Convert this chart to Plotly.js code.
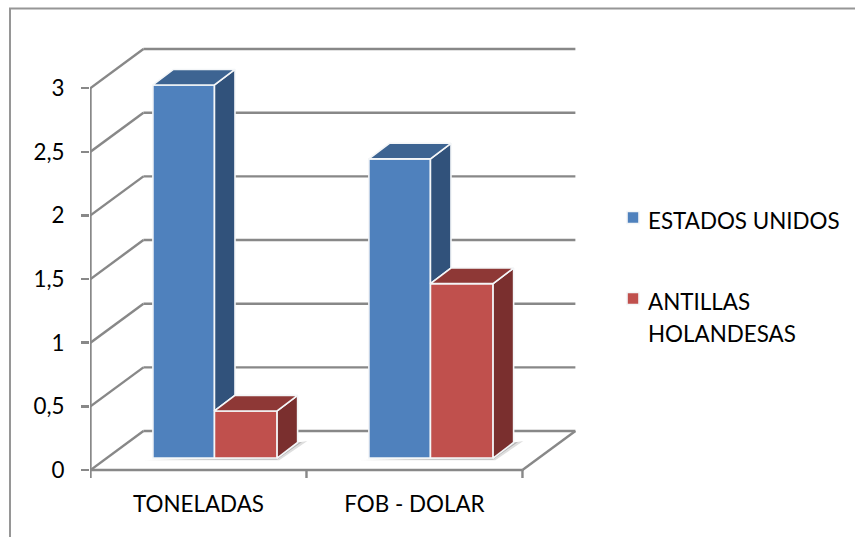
<!DOCTYPE html>
<html><head><meta charset="utf-8">
<script src="https://cdn.plot.ly/plotly-3.0.1.min.js"></script>
<style>html,body{margin:0;padding:0;background:#fff;overflow:hidden}</style>
</head><body><div id="chart" style="width:855px;height:537px"></div>
<script>
const categories = ['TONELADAS', 'FOB - DOLAR'];
const categoryPos = [0.5, 1.5];
const estadosUnidos = [2.93, 2.35];
const antillas = [0.37, 1.37];
const tickValues = [0, 0.5, 1, 1.5, 2, 2.5, 3];
const tickLabels = ['0', '0,5', '1', '1,5', '2', '2,5', '3'];
const nameA = 'ESTADOS UNIDOS';
const nameB = 'ANTILLAS<br>HOLANDESAS';

// projection of the pseudo-3D box, in axis units
const wallDX = 0.245, wallDY = 0.306;   // depth of the floor
const barDX = 0.095, barDY = 0.122;     // depth of a bar
const barBase = 0.094;                  // bars stand inside the floor
const blueOff = -0.211, blueW = 0.285, redOff = 0.074, redW = 0.29;
const xMaxCat = 2;
const grid = '#888888';

const poly = (pts, color) => ({
  type: 'scatter', mode: 'lines', x: pts.map(p => p[0]), y: pts.map(p => p[1]),
  fill: 'toself', fillcolor: color, line: {color: '#f4f6f8', width: 1.6},
  showlegend: false, hoverinfo: 'skip'
});
const seg = (x0, y0, x1, y1, w) => ({type: 'line', layer: 'below', xref: 'x', yref: 'y',
  x0, y0, x1, y1, line: {color: grid, width: w || 2.4}});
const pathShape = (pts, alpha) => ({type: 'path', layer: 'below', xref: 'x', yref: 'y',
  path: 'M' + pts.map(p => p[0] + ',' + p[1]).join('L') + 'Z',
  fillcolor: 'rgba(90,90,90,' + alpha + ')', line: {width: 0}});

const shapes = [];
// back-wall gridlines and left-wall diagonals
tickValues.forEach(v => {
  shapes.push(seg(wallDX, v + wallDY, xMaxCat + wallDX, v + wallDY));
  shapes.push(seg(0, v, wallDX, v + wallDY));
});
// floor front, right edge, axis lines, tick marks
shapes.push(seg(0, 0, xMaxCat, 0));
shapes.push(seg(xMaxCat, 0, xMaxCat + wallDX, wallDY));
shapes.push(seg(0, 0, 0, 3));
[0, 1, 2].forEach(x => shapes.push(seg(x, 0, x, -0.063)));
// soft floor shadows
categoryPos.forEach(c => {
  const l = c + blueOff, r = c + redOff + redW;
  shapes.push(pathShape([[l - 0.045, barBase - 0.018], [r + 0.01, barBase - 0.018],
    [r + barDX + 0.045, barBase + barDY + 0.012], [r + barDX, barBase + barDY], [r, barBase]], 0.2));
  shapes.push(pathShape([[l - 0.025, barBase - 0.012], [r, barBase - 0.012],
    [r + barDX + 0.02, barBase + barDY + 0.004], [r + barDX, barBase + barDY], [r, barBase]], 0.32));
});
// chart frame
const pxX = p => (p - 90) / 490, pxY = p => 1 - (p - 45) / 435;
shapes.push({type: 'line', xref: 'paper', yref: 'paper', layer: 'below', x0: pxX(10), x1: pxX(10), y0: pxY(537), y1: pxY(8.5), line: {color: '#969696', width: 2}});
shapes.push({type: 'line', xref: 'paper', yref: 'paper', layer: 'below', x0: pxX(9), x1: pxX(855), y0: pxY(8.5), y1: pxY(8.5), line: {color: '#969696', width: 2}});

const labelSpan = t => '<span style="font-size:22.4px">' + t + '</span>';
const traces = [];
traces.push({type: 'bar', name: labelSpan(nameA), x: categoryPos, y: estadosUnidos, base: barBase, width: blueW, offset: blueOff,
  marker: {color: '#4f81bd', line: {color: '#f4f6f8', width: 1.6}}, legendgroup: 'a', hoverinfo: 'y'});
traces.push({type: 'bar', name: labelSpan(nameB), x: categoryPos, y: antillas, base: barBase, width: redW, offset: redOff,
  marker: {color: '#c0504d', line: {color: '#f4f6f8', width: 1.6}}, legendgroup: 'b', hoverinfo: 'y'});

categoryPos.forEach((c, i) => {
  const xl = c + blueOff, xr = xl + blueW, T = barBase + estadosUnidos[i], R = barBase + antillas[i];
  traces.push(poly([[xr, T], [xr + barDX, T + barDY], [xr + barDX, R + barDY], [xr, R], [xr, T]], '#31527b'));
  traces.push(poly([[xl, T], [xl + barDX, T + barDY], [xr + barDX, T + barDY], [xr, T], [xl, T]], '#3d6492'));
  const rl = c + redOff, rr = rl + redW;
  traces.push(poly([[rr, R], [rr + barDX, R + barDY], [rr + barDX, barBase + barDY], [rr, barBase], [rr, R]], '#7a2f2e'));
  traces.push(poly([[rl, R], [rl + barDX, R + barDY], [rr + barDX, R + barDY], [rr, R], [rl, R]], '#8e3836'));
});

const font = {family: 'Lato, Carlito, sans-serif', size: 22.4, color: '#000'};
Plotly.newPlot('chart', traces, {
  width: 855, height: 537,
  margin: {l: 90, r: 275, t: 45, b: 57, autoexpand: false},
  paper_bgcolor: '#fff', plot_bgcolor: 'rgba(0,0,0,0)',
  barmode: 'overlay', font, shapes,
  xaxis: {range: [-0.0023, 2.2664], tickmode: 'array', tickvals: categoryPos, ticktext: categories,
    showgrid: false, zeroline: false, showline: false, ticks: '', ticklabelstandoff: 9, tickfont: font, fixedrange: true},
  yaxis: {range: [-0.0785, 3.338], tickmode: 'array', tickvals: tickValues, ticktext: tickLabels,
    showgrid: false, zeroline: false, showline: false, ticks: 'outside', ticklen: 8, tickwidth: 2.4, tickcolor: grid,
    ticklabelstandoff: 12, tickfont: font, fixedrange: true},
  legend: {xref: 'container', yref: 'container', x: 608 / 855, y: 1 - 197 / 537, xanchor: 'left', yanchor: 'top',
    font: {family: font.family, size: 24.6, color: '#000'}, tracegroupgap: 46, traceorder: 'grouped', bgcolor: 'rgba(0,0,0,0)',
    itemclick: false, itemdoubleclick: false},
  showlegend: true
}, {displayModeBar: false, staticPlot: true}).then(() => {
  // legend swatches sit tight to the label and level with its first line
  const nudges = [[5, -2], [5, -18]];
  document.querySelectorAll('.legend .traces .legendpoints').forEach((el, i) => {
    const n = nudges[i] || [0, 0];
    el.setAttribute('transform', 'translate(' + n[0] + ',' + n[1] + ')');
  });
});
</script></body></html>
